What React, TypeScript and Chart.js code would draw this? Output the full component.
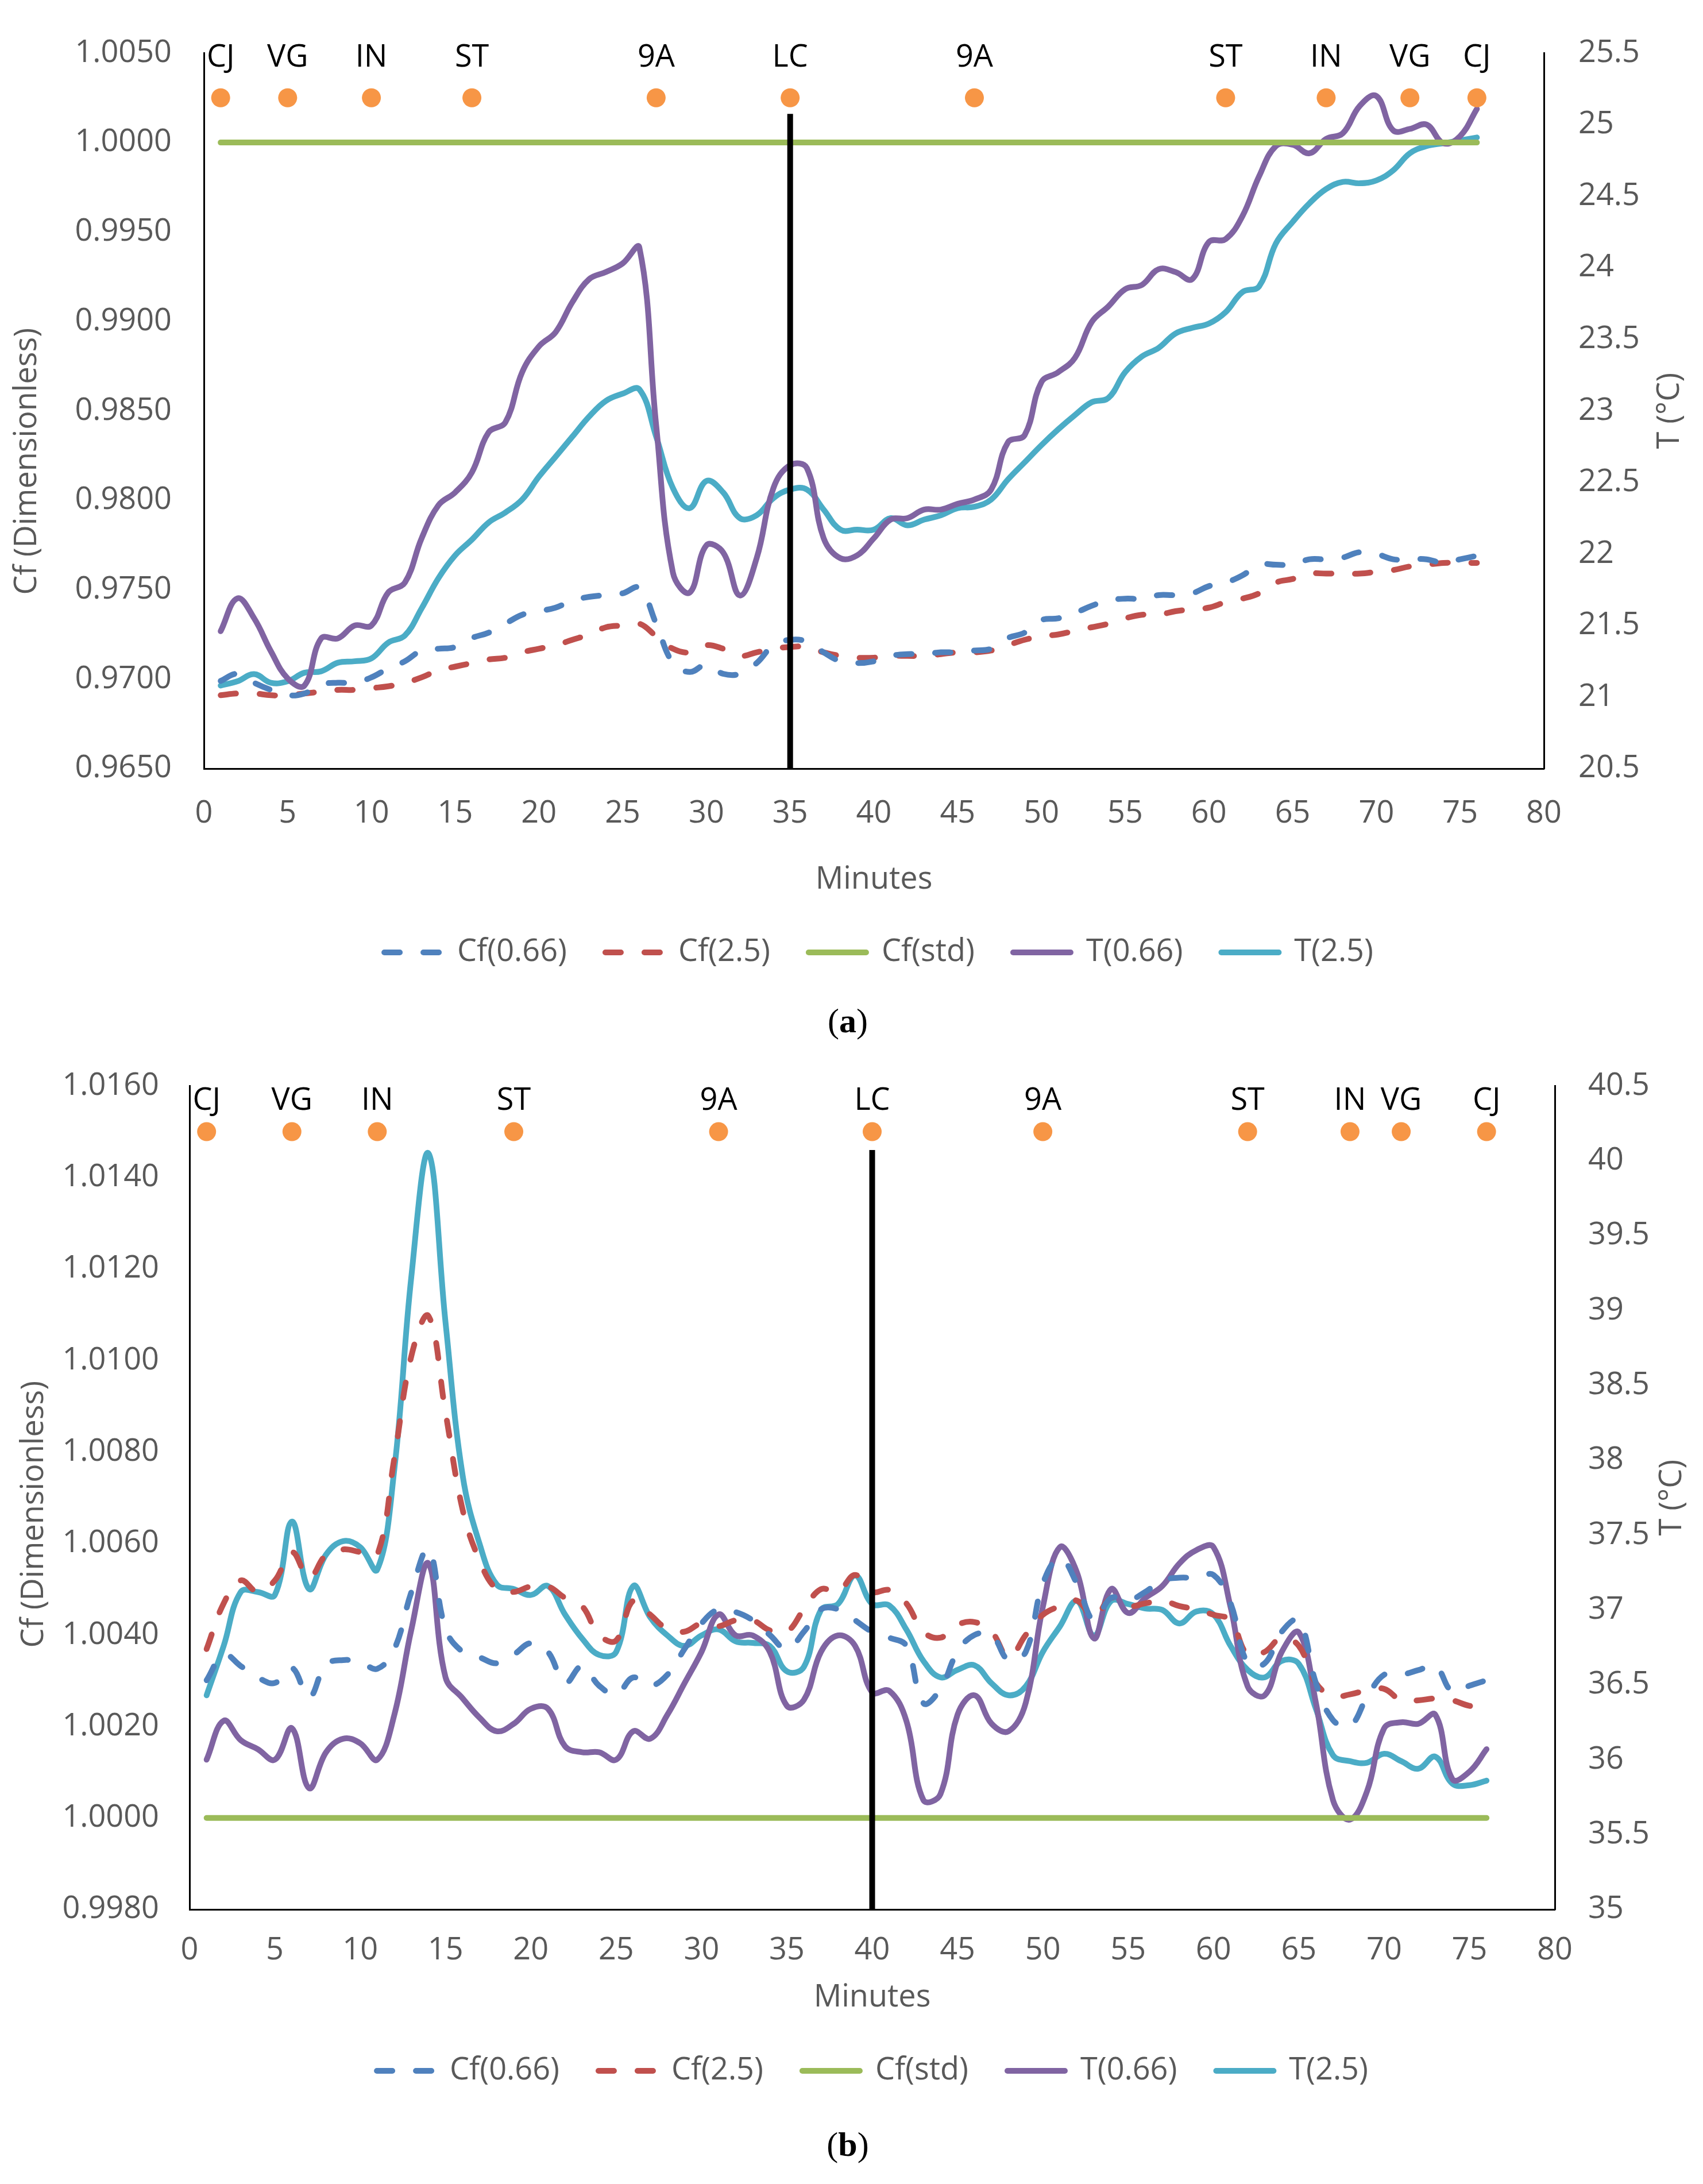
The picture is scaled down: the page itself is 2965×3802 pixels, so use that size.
import React, { useEffect, useRef } from 'react';
import { Chart, registerables } from 'chart.js';

Chart.register(...registerables);

const FONT = "'Open Sans', 'Noto Sans', sans-serif";
const GREY = '#595959';

// minutes 1..76 (same sampling in both runs)
const minutes = [
  1, 2, 3, 4, 5, 6, 7, 8, 9, 10, 11, 12, 13, 14, 15, 16, 17, 18, 19, 20,
  21, 22, 23, 24, 25, 26, 27, 28, 29, 30, 31, 32, 33, 34, 35, 36, 37, 38, 39, 40,
  41, 42, 43, 44, 45, 46, 47, 48, 49, 50, 51, 52, 53, 54, 55, 56, 57, 58, 59, 60,
  61, 62, 63, 64, 65, 66, 67, 68, 69, 70, 71, 72, 73, 74, 75, 76,
];
const xTicks = [0, 5, 10, 15, 20, 25, 30, 35, 40, 45, 50, 55, 60, 65, 70, 75, 80];
const CF_STD = 1.0;

const eventNames = ['CJ', 'VG', 'IN', 'ST', '9A', 'LC', '9A', 'ST', 'IN', 'VG', 'CJ'];

// ---- panel (a)
const aLeftTicks = [0.965, 0.97, 0.975, 0.98, 0.985, 0.99, 0.995, 1.0, 1.005];
const aRightTicks = [20.5, 21, 21.5, 22, 22.5, 23, 23.5, 24, 24.5, 25, 25.5];
const aEventMinutes = [1, 5, 10, 16, 27, 35, 46, 61, 67, 72, 76];
const aEventLevel = 1.0025;
const aDivider = 35;
const aDividerTop = 1.0016;

const aCf066 = [
  0.9699, 0.9703, 0.9698, 0.9694, 0.9691, 0.9692, 0.9697, 0.9698, 0.9698, 0.9701,
  0.9706, 0.971, 0.9716, 0.9717, 0.9718, 0.9723, 0.9726, 0.9731, 0.9736, 0.9738,
  0.974, 0.9744, 0.9746, 0.9747, 0.9748, 0.9751, 0.9731, 0.9709, 0.9704, 0.9708,
  0.9703, 0.9703, 0.9709, 0.9719, 0.9722, 0.9721, 0.9715, 0.971, 0.9709, 0.971,
  0.9713, 0.9714, 0.9714, 0.9715, 0.9715, 0.9716, 0.9717, 0.9723, 0.9726, 0.9733,
  0.9734, 0.9737, 0.9741, 0.9744, 0.9745, 0.9745, 0.9747, 0.9747, 0.9748, 0.9752,
  0.9754, 0.9758, 0.9764, 0.9764, 0.9764, 0.9767, 0.9767, 0.9768, 0.9771, 0.977,
  0.9767, 0.9767, 0.9767, 0.9765, 0.9767, 0.9769,
];
const aCf25 = [
  0.9691, 0.9692, 0.9692, 0.9691, 0.9691, 0.9692, 0.9693, 0.9694, 0.9694, 0.9695,
  0.9696, 0.9698, 0.9701, 0.9705, 0.9707, 0.9709, 0.9711, 0.9712, 0.9715, 0.9717,
  0.9719, 0.9722, 0.9725, 0.9729, 0.973, 0.9731, 0.9724, 0.9717, 0.9715, 0.9719,
  0.9717, 0.9713, 0.9715, 0.9717, 0.9718, 0.9718, 0.9715, 0.9713, 0.9712, 0.9712,
  0.9713, 0.9713, 0.9713, 0.9714, 0.9715, 0.9715, 0.9716, 0.9719, 0.9722, 0.9724,
  0.9725, 0.9727, 0.9729, 0.9731, 0.9734, 0.9736, 0.9736, 0.9738, 0.9739, 0.974,
  0.9743, 0.9745, 0.9748, 0.9754, 0.9756, 0.9759, 0.9759, 0.9759, 0.9759, 0.976,
  0.9761, 0.9763, 0.9764, 0.9765, 0.9765, 0.9765,
];
const aT066 = [
  21.46, 21.69, 21.55, 21.32, 21.13, 21.08, 21.41, 21.41, 21.5, 21.5,
  21.73, 21.8, 22.11, 22.34, 22.43, 22.57, 22.85, 22.92, 23.27, 23.45,
  23.55, 23.76, 23.92, 23.97, 24.03, 24.14, 22.9, 21.87, 21.73, 22.06,
  22.01, 21.71, 21.97, 22.46, 22.62, 22.6, 22.11, 21.97, 21.99, 22.11,
  22.24, 22.25, 22.31, 22.31, 22.35, 22.38, 22.45, 22.78, 22.83, 23.2,
  23.27, 23.37, 23.62, 23.73, 23.85, 23.88, 23.99, 23.97, 23.92, 24.18,
  24.2, 24.36, 24.64, 24.85, 24.86, 24.8, 24.9, 24.94, 25.13, 25.2,
  24.96, 24.97, 25.0, 24.87, 24.92, 25.11,
];
const aT25 = [
  21.08, 21.11, 21.16, 21.1, 21.11, 21.17, 21.18, 21.24, 21.25, 21.27,
  21.38, 21.43, 21.62, 21.83, 21.99, 22.1, 22.22, 22.29, 22.38, 22.54,
  22.68, 22.82, 22.96, 23.07, 23.12, 23.15, 22.82, 22.46, 22.32, 22.51,
  22.43, 22.25, 22.27, 22.39, 22.45, 22.45, 22.31, 22.17, 22.17, 22.17,
  22.25, 22.2, 22.24, 22.27, 22.32, 22.33, 22.38, 22.52, 22.64, 22.76,
  22.87, 22.97, 23.06, 23.09, 23.27, 23.38, 23.44, 23.54, 23.58, 23.61,
  23.69, 23.83, 23.87, 24.17, 24.32, 24.45, 24.55, 24.6, 24.59, 24.61,
  24.68, 24.8, 24.85, 24.87, 24.89, 24.91,
];

// ---- panel (b)
const bLeftTicks = [0.998, 1.0, 1.002, 1.004, 1.006, 1.008, 1.01, 1.012, 1.014, 1.016];
const bRightTicks = [35, 35.5, 36, 36.5, 37, 37.5, 38, 38.5, 39, 39.5, 40, 40.5];
const bEventMinutes = [1, 6, 11, 19, 31, 40, 50, 62, 68, 71, 76];
const bEventLevel = 1.015;
const bDivider = 40;
const bDividerTop = 1.0146;

const bCf066 = [
  1.00301, 1.00357, 1.00332, 1.00307, 1.00295, 1.00328, 1.00264, 1.00335, 1.00345, 1.00341,
  1.00326, 1.00369, 1.00494, 1.00587, 1.00413, 1.00363, 1.00351, 1.00338, 1.00357, 1.00382,
  1.00363, 1.00295, 1.00332, 1.00289, 1.0027, 1.00307, 1.00289, 1.00313, 1.00369, 1.00425,
  1.00456, 1.0045, 1.00432, 1.004, 1.00369, 1.00407, 1.00456, 1.00456, 1.00432, 1.00407,
  1.00394, 1.00376, 1.00251, 1.00282, 1.00363, 1.004, 1.004, 1.00345, 1.00363, 1.00512,
  1.00568, 1.00512, 1.00432, 1.00481, 1.00475, 1.00494, 1.00519, 1.00525, 1.00525, 1.00531,
  1.00469, 1.00338, 1.00338, 1.00407, 1.00432, 1.00295, 1.00214, 1.00201, 1.00264, 1.00313,
  1.00313, 1.00323, 1.00332, 1.00276, 1.00289, 1.00301,
];
const bCf25 = [
  1.00369, 1.00469, 1.00519, 1.00494, 1.00519, 1.00581, 1.00525, 1.00575, 1.00587, 1.00581,
  1.00575, 1.00786, 1.0101, 1.01097, 1.00886, 1.00674, 1.00562, 1.005, 1.00494, 1.00506,
  1.00506, 1.00481, 1.00463, 1.004, 1.00388, 1.00475, 1.00444, 1.00413, 1.00407, 1.00425,
  1.00419, 1.00432, 1.00432, 1.0041, 1.00407, 1.00456, 1.005, 1.00494, 1.00531, 1.00494,
  1.00498, 1.00469, 1.00407, 1.00394, 1.00422, 1.00428, 1.00407, 1.00351, 1.004, 1.00444,
  1.00463, 1.00475, 1.00438, 1.00481, 1.00463, 1.00469, 1.00475, 1.00463, 1.00456, 1.00444,
  1.00432, 1.00357, 1.00363, 1.00394, 1.00376, 1.00295, 1.00266, 1.0027, 1.00279, 1.00282,
  1.00257, 1.00257, 1.00261, 1.00257, 1.00245, 1.00243,
];
const bT066 = [
  36.0, 36.26, 36.13, 36.07, 36.0, 36.21, 35.81, 36.05, 36.14, 36.11,
  36.0, 36.3, 36.87, 37.31, 36.55, 36.41, 36.28, 36.19, 36.24, 36.34,
  36.34, 36.09, 36.05, 36.05, 36.0, 36.19, 36.14, 36.3, 36.51, 36.72,
  36.97, 36.83, 36.83, 36.72, 36.36, 36.4, 36.72, 36.83, 36.76, 36.45,
  36.46, 36.26, 35.73, 35.77, 36.3, 36.43, 36.24, 36.19, 36.38, 37.02,
  37.42, 37.25, 36.81, 37.14, 36.98, 37.08, 37.16, 37.31, 37.4, 37.42,
  37.02, 36.49, 36.43, 36.72, 36.85, 36.38, 35.73, 35.6, 35.79, 36.21,
  36.25, 36.24, 36.3, 35.87, 35.92, 36.07,
];
const bT25 = [
  36.43, 36.76, 37.12, 37.12, 37.1, 37.59, 37.14, 37.37, 37.46, 37.42,
  37.27, 37.94, 39.23, 40.05, 38.92, 37.9, 37.44, 37.17, 37.14, 37.1,
  37.16, 36.97, 36.81, 36.7, 36.72, 37.16, 36.95, 36.83, 36.76, 36.83,
  36.87, 36.79, 36.78, 36.76, 36.59, 36.62, 37.0, 37.04, 37.23, 37.04,
  37.03, 36.87, 36.66, 36.55, 36.6, 36.63, 36.51, 36.43, 36.49, 36.72,
  36.89, 37.06, 36.83, 37.06, 37.04, 37.01, 37.0, 36.91, 36.99, 36.97,
  36.76, 36.6, 36.55, 36.66, 36.64, 36.34, 36.03, 35.99, 35.98, 36.04,
  35.99, 35.94, 36.02, 35.84, 35.83, 35.86,
];

const LINE_W = 10;
const DASH = [27, 41];

const eventLabelPlugin = {
  id: 'eventLabels',
  afterDatasetsDraw(chart: any, _args: any, opts: any) {
    const meta = chart.getDatasetMeta(1);
    const ctx = chart.ctx;
    ctx.save();
    ctx.font = `54px ${FONT}`;
    ctx.fillStyle = '#000';
    ctx.textAlign = 'center';
    ctx.textBaseline = 'middle';
    meta.data.forEach((pt: any, i: number) => {
      ctx.fillText(eventNames[i], pt.x, pt.y - opts.offset);
    });
    ctx.restore();
  },
};

// vertical axis titles (both read bottom-to-top, as in Excel)
const sideTitlePlugin = {
  id: 'sideTitles',
  afterDraw(chart: any, _args: any, opts: any) {
    const { ctx, chartArea } = chart;
    const mid = (chartArea.top + chartArea.bottom) / 2;
    const draw = (text: string, x: number, y: number) => {
      ctx.save();
      ctx.font = `54px ${FONT}`;
      ctx.fillStyle = GREY;
      ctx.textAlign = 'center';
      ctx.textBaseline = 'middle';
      ctx.translate(x, y);
      ctx.rotate(-Math.PI / 2);
      ctx.fillText(text, 0, 0);
      ctx.restore();
    };
    draw('Cf (Dimensionless)', opts.leftX, mid + opts.leftDy);
    draw('T (°C)', opts.rightX, mid);
  },
};

type Panel = {
  top: number;
  height: number;
  cf066: number[];
  cf25: number[];
  t066: number[];
  t25: number[];
  leftTicks: number[];
  rightTicks: number[];
  eventMinutes: number[];
  eventLevel: number;
  divider: number;
  dividerTop: number;
  lay: {
    padLeft: number;
    padTop: number;
    padBottom: number;
    leftW: number;
    rightW: number;
    xH: number;
    xTickPad: number;
    yTickPad: number;
    y1TickPad: number;
    legendPad: number;
    leftTitleX: number;
    leftTitleDy: number;
    rightTitleX: number;
    labelOffset: number;
  };
};

const panelA: Panel = {
  top: 0,
  height: 1720,
  cf066: aCf066,
  cf25: aCf25,
  t066: aT066,
  t25: aT25,
  leftTicks: aLeftTicks,
  rightTicks: aRightTicks,
  eventMinutes: aEventMinutes,
  eventLevel: aEventLevel,
  divider: aDivider,
  dividerTop: aDividerTop,
  lay: {
    padLeft: 95, padTop: 67, padBottom: 25, leftW: 260, rightW: 277, xH: 226,
    xTickPad: 46, yTickPad: 56, y1TickPad: 60, legendPad: 67,
    leftTitleX: 48, leftTitleDy: 88, rightTitleX: 2908, labelOffset: 70,
  },
};

const panelB: Panel = {
  top: 1800,
  height: 1867,
  cf066: bCf066,
  cf25: bCf25,
  t066: bT066,
  t25: bT25,
  leftTicks: bLeftTicks,
  rightTicks: bRightTicks,
  eventMinutes: bEventMinutes,
  eventLevel: bEventLevel,
  divider: bDivider,
  dividerTop: bDividerTop,
  lay: {
    padLeft: 73, padTop: 85, padBottom: 25, leftW: 257, rightW: 258, xH: 186,
    xTickPad: 39, yTickPad: 53, y1TickPad: 58, legendPad: 68,
    leftTitleX: 60, leftTitleDy: 29, rightTitleX: 2912, labelOffset: 53,
  },
};

const pts = (vals: number[]) => minutes.map((m, i) => ({ x: m, y: vals[i] }));

function buildConfig(p: Panel): any {
  const L = p.lay;
  const font = { family: FONT, size: 54 };
  const leftMin = p.leftTicks[0];
  const leftMax = p.leftTicks[p.leftTicks.length - 1];
  const rightMin = p.rightTicks[0];
  const rightMax = p.rightTicks[p.rightTicks.length - 1];
  const line = (label: string, data: any[], color: string, axis: string, dashed: boolean) => ({
    label,
    data,
    yAxisID: axis,
    borderColor: color,
    backgroundColor: color,
    borderWidth: LINE_W,
    borderDash: dashed ? DASH : [],
    borderCapStyle: 'round',
    pointRadius: 0,
    tension: 0.4,
    fill: false,
  });
  return {
    type: 'line',
    data: {
      datasets: [
        {
          label: 'divider',
          data: [
            { x: p.divider, y: leftMin },
            { x: p.divider, y: p.dividerTop },
          ],
          yAxisID: 'y',
          borderColor: '#000',
          borderWidth: 10,
          pointRadius: 0,
          tension: 0,
        },
        {
          label: 'events',
          data: p.eventMinutes.map((m) => ({ x: m, y: p.eventLevel })),
          yAxisID: 'y',
          showLine: false,
          pointRadius: 16.5,
          pointHoverRadius: 16.5,
          pointBackgroundColor: '#F79646',
          pointBorderWidth: 0,
        },
        line('Cf(0.66)', pts(p.cf066), '#4F81BD', 'y', true),
        line('Cf(2.5)', pts(p.cf25), '#C0504D', 'y', true),
        line('Cf(std)', minutes.map((m) => ({ x: m, y: CF_STD })), '#9BBB59', 'y', false),
        line('T(0.66)', pts(p.t066), '#8064A2', 'y1', false),
        line('T(2.5)', pts(p.t25), '#4BACC6', 'y1', false),
      ],
    },
    options: {
      responsive: true,
      maintainAspectRatio: false,
      animation: false,
      events: [],
      layout: {
        padding: { left: L.padLeft, right: 0, top: L.padTop, bottom: L.padBottom },
      },
      plugins: {
        tooltip: { enabled: false },
        legend: {
          position: 'bottom',
          labels: {
            usePointStyle: true,
            pointStyle: 'line',
            pointStyleWidth: 100,
            color: GREY,
            font,
            padding: L.legendPad,
            generateLabels: (chart: any) =>
              chart.data.datasets
                .map((ds: any, i: number) => ({
                  text: ds.label,
                  datasetIndex: i,
                  fillStyle: ds.borderColor,
                  strokeStyle: ds.borderColor,
                  fontColor: GREY,
                  lineWidth: ds.borderWidth,
                  lineDash: ds.borderDash,
                  lineCap: 'round',
                  pointStyle: 'line',
                  hidden: false,
                }))
                .filter((item: any) => item.datasetIndex >= 2),
          },
        },
        eventLabels: { offset: L.labelOffset },
        sideTitles: { leftX: L.leftTitleX, leftDy: L.leftTitleDy, rightX: L.rightTitleX },
      },
      scales: {
        x: {
          type: 'linear',
          min: xTicks[0],
          max: xTicks[xTicks.length - 1],
          grid: { display: false, drawTicks: false },
          border: { display: true, color: '#000', width: 3 },
          afterBuildTicks: (s: any) => {
            s.ticks = xTicks.map((v) => ({ value: v }));
          },
          afterFit: (s: any) => {
            s.height = L.xH;
          },
          ticks: { color: GREY, font, padding: L.xTickPad, autoSkip: false, maxRotation: 0 },
          title: { display: true, text: 'Minutes', color: GREY, font, padding: 0 },
        },
        y: {
          type: 'linear',
          position: 'left',
          min: leftMin,
          max: leftMax,
          grid: { display: false, drawTicks: false },
          border: { display: true, color: '#000', width: 3 },
          afterBuildTicks: (s: any) => {
            s.ticks = p.leftTicks.map((v) => ({ value: v }));
          },
          afterFit: (s: any) => {
            s.width = L.leftW;
          },
          ticks: {
            color: GREY,
            font,
            padding: L.yTickPad,
            callback: (v: any) => Number(v).toFixed(4),
          },
        },
        y1: {
          type: 'linear',
          position: 'right',
          min: rightMin,
          max: rightMax,
          grid: { display: false, drawTicks: false },
          border: { display: true, color: '#000', width: 3 },
          afterBuildTicks: (s: any) => {
            s.ticks = p.rightTicks.map((v) => ({ value: v }));
          },
          afterFit: (s: any) => {
            s.width = L.rightW;
          },
          ticks: {
            color: GREY,
            font,
            padding: L.y1TickPad,
            callback: (v: any) => String(v),
          },
        },
      },
    },
    plugins: [eventLabelPlugin, sideTitlePlugin],
  };
}

const PanelChart: React.FC<{ panel: Panel }> = ({ panel }) => {
  const chartRef = useRef<HTMLCanvasElement>(null);
  const chartInstance = useRef<Chart | null>(null);

  useEffect(() => {
    if (!chartRef.current) return;
    if (chartInstance.current) chartInstance.current.destroy();
    const ctx = chartRef.current.getContext('2d');
    if (!ctx) return;
    chartInstance.current = new Chart(ctx, buildConfig(panel));
    return () => {
      if (chartInstance.current) {
        chartInstance.current.destroy();
        chartInstance.current = null;
      }
    };
  }, [panel]);

  return (
    <div style={{ position: 'absolute', left: 0, top: panel.top, width: 2965, height: panel.height }}>
      <canvas ref={chartRef}></canvas>
    </div>
  );
};

const Caption: React.FC<{ top: number; letter: string }> = ({ top, letter }) => (
  <div
    style={{
      position: 'absolute',
      left: 0,
      top,
      width: 2952,
      textAlign: 'center',
      fontFamily: "'Liberation Serif', 'Times New Roman', serif",
      fontSize: 60,
      lineHeight: '60px',
      color: '#000',
    }}
  >
    (<b>{letter}</b>)
  </div>
);

export default function App() {
  return (
    <div
      style={{
        position: 'absolute',
        left: 0,
        top: 0,
        width: 2965,
        height: 3802,
        overflow: 'hidden',
        background: '#fff',
      }}
    >
      <PanelChart panel={panelA} />
      <Caption top={1747} letter="a" />
      <PanelChart panel={panelB} />
      <Caption top={3703} letter="b" />
    </div>
  );
}
